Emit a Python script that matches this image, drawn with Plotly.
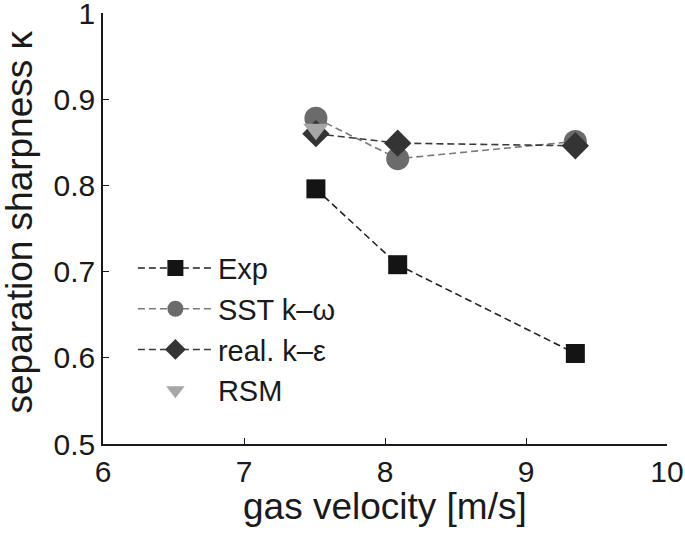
import plotly.graph_objects as go

# Data
velocity = [7.51, 8.09, 9.35]
exp_vals = [0.796, 0.708, 0.605]
sst_vals = [0.878, 0.831, 0.851]
real_vals = [0.860, 0.849, 0.846]
rsm_velocity = [7.51]
rsm_vals = [0.865]

series_names = ["Exp", "SST k\u2013\u03c9", "real. k\u2013\u03b5", "RSM"]
x_ticks = [6, 7, 8, 9, 10]
y_ticks = [0.5, 0.6, 0.7, 0.8, 0.9, 1]
y_ticklabels = ["0.5", "0.6", "0.7", "0.8", "0.9", "1"]
x_title = "gas velocity [m/s]"
y_title = "separation sharpness \u03ba"

FONT = "Liberation Sans"
INK = "#1a1a1a"
dash = "7px,4px"

fig = go.Figure()
fig.add_trace(go.Scatter(
    x=velocity, y=exp_vals, name=series_names[0], mode="lines+markers",
    line=dict(color="#222222", width=1.6, dash=dash),
    marker=dict(symbol="square", size=19, color="#141414"),
))
fig.add_trace(go.Scatter(
    x=velocity, y=sst_vals, name=series_names[1], mode="lines+markers",
    line=dict(color="#7a7a7a", width=1.6, dash=dash),
    marker=dict(symbol="circle", size=23, color="#6b6b6b"),
))
fig.add_trace(go.Scatter(
    x=velocity, y=real_vals, name=series_names[2], mode="lines+markers",
    line=dict(color="#3a3a3a", width=1.6, dash=dash),
    marker=dict(symbol="diamond", size=21, color="#343434"),
))
fig.add_trace(go.Scatter(
    x=rsm_velocity, y=rsm_vals, name=series_names[3], mode="markers",
    marker=dict(symbol="triangle-down", size=22, color="#a6a6a6"),
))

fig.update_layout(
    width=685, height=533,
    margin=dict(l=103, r=18, t=13, b=89),
    paper_bgcolor="white", plot_bgcolor="white",
    font=dict(family=FONT, color=INK),
    legend=dict(x=0.053, y=0.467, xanchor="left", yanchor="top",
                bgcolor="rgba(0,0,0,0)", borderwidth=0,
                font=dict(family=FONT, size=29, color=INK),
                itemwidth=75, tracegroupgap=0),
    showlegend=True,
)

common = dict(
    showgrid=False, zeroline=False, showline=True, linecolor=INK,
    linewidth=1.5, ticks="inside", ticklen=6, tickcolor=INK,
    tickwidth=1.2, mirror=False, automargin=False, ticklabeloverflow="allow",
)
fig.update_xaxes(range=[6, 10], tickmode="array", tickvals=x_ticks, **common)
fig.update_yaxes(range=[0.5, 1], tickmode="array", tickvals=y_ticks,
                 ticktext=y_ticklabels, **common)
fig.update_xaxes(tickfont=dict(family=FONT, size=30, color=INK))
fig.update_yaxes(tickfont=dict(family=FONT, size=30, color=INK))

# Axis titles as annotations for precise placement
fig.add_annotation(text=x_title, xref="paper", yref="paper", x=0.5, y=0,
                   xanchor="center", yanchor="top", yshift=-40, showarrow=False,
                   font=dict(family=FONT, size=37, color=INK))
fig.add_annotation(text=y_title, xref="paper", yref="paper", x=0, y=0.5,
                   xanchor="center", yanchor="middle", xshift=-84, yshift=6,
                   textangle=-90, showarrow=False,
                   font=dict(family=FONT, size=37, color=INK))

fig.write_html("out.html",
               config={"displayModeBar": False},
               post_script="document.body.style.margin='0';document.body.style.overflow='hidden';")
